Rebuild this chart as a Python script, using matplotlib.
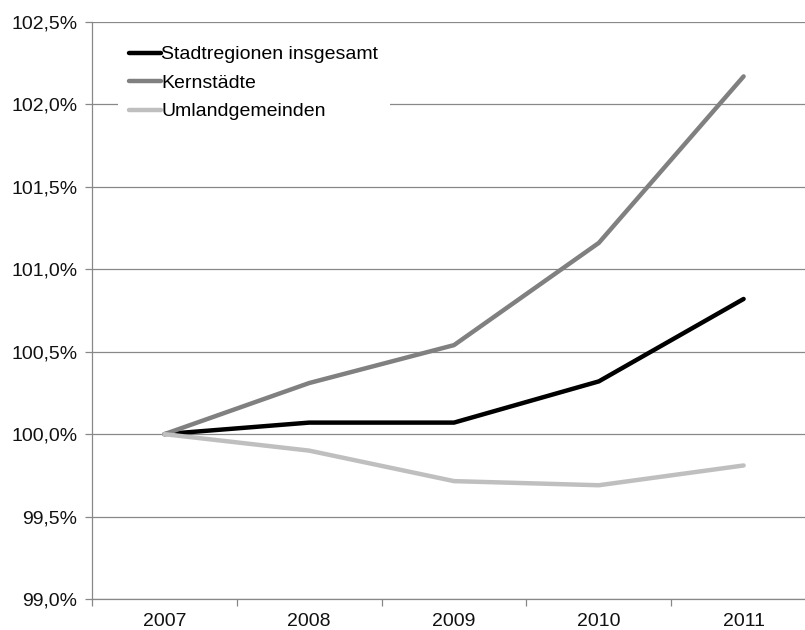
import matplotlib
matplotlib.use("Agg")
import matplotlib.pyplot as plt
from matplotlib.ticker import FixedLocator, FuncFormatter

plt.rcParams['font.family'] = ['Liberation Sans', 'DejaVu Sans']

# Bevölkerungsentwicklung, Index 2007 = 100 %
years = ["2007", "2008", "2009", "2010", "2011"]
stadtregionen = [100.00, 100.07, 100.07, 100.32, 100.82]
kernstaedte = [100.00, 100.31, 100.54, 101.16, 102.17]
umland = [100.00, 99.90, 99.715, 99.69, 99.81]

series_names = ["Stadtregionen insgesamt", "Kernstädte", "Umlandgemeinden"]
series_colors = ["#000000", "#808080", "#bfbfbf"]

y_ticks = [99.0, 99.5, 100.0, 100.5, 101.0, 101.5, 102.0, 102.5]

fig = plt.figure(figsize=(8.05, 6.3), dpi=100)
fig.patch.set_facecolor("white")
ax = fig.add_axes([92 / 805, 31 / 630, 724 / 805, 577 / 630])

x = list(range(len(years)))
for vals, name, col in zip([stadtregionen, kernstaedte, umland], series_names, series_colors):
    ax.plot(x, vals, color=col, lw=3.2, label=name, solid_capstyle="round", zorder=3)

ax.set_xlim(-0.5, len(years) - 0.5)
ax.set_ylim(99.0, 102.5)

# y axis: percentages with comma decimal separator
ax.yaxis.set_major_locator(FixedLocator(y_ticks))
ax.yaxis.set_major_formatter(FuncFormatter(lambda v, p: f"{v:.1f}%".replace(".", ",")))
ax.grid(axis="y", color="#888888", lw=0.9, zorder=1)
ax.tick_params(axis="y", length=5, width=0.9, color="#888888", pad=5.5,
               labelsize=14, labelcolor="#111111")

# x axis: category labels centred, tick marks between categories
ax.set_xticks(x)
ax.set_xticklabels(years)
ax.set_xticks([i - 0.5 for i in range(len(years) + 1)], minor=True)
ax.tick_params(axis="x", which="major", length=0, pad=10, labelsize=14, labelcolor="#111111")
ax.tick_params(axis="x", which="minor", length=5, width=0.9, color="#888888")

for side in ["top", "right"]:
    ax.spines[side].set_visible(False)
for side in ["left", "bottom"]:
    ax.spines[side].set_color("#888888")
    ax.spines[side].set_linewidth(0.9)

leg = ax.legend(loc="upper left", bbox_to_anchor=(0.022, 0.996), fontsize=14,
                frameon=True, facecolor="white", edgecolor="none", framealpha=1.0,
                handlelength=1.65, handletextpad=0.0, labelspacing=0.56,
                borderpad=0.6, fancybox=False)
leg.set_zorder(4)
for line in leg.get_lines():
    line.set_linewidth(3.2)

fig.savefig("out.png", dpi=100, facecolor="white")
